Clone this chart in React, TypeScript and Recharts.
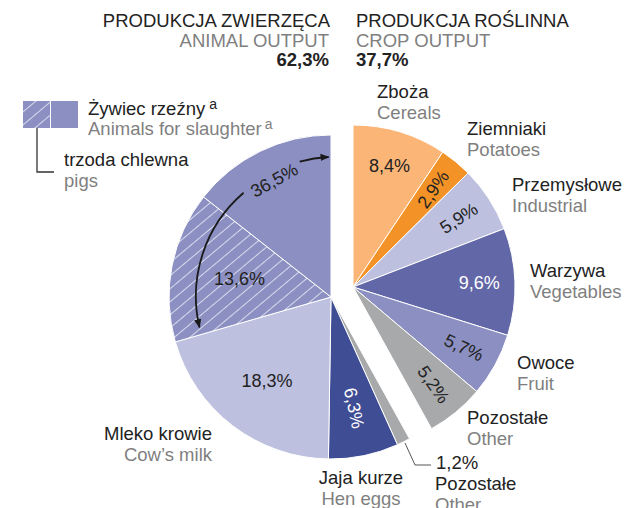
import { Cell, Pie, PieChart } from "recharts";

// shares in % of total agricultural output
const cropNames = ["Zboża", "Ziemniaki", "Przemysłowe", "Warzywa", "Owoce", "Pozostałe"];
const cropNamesEn = ["Cereals", "Potatoes", "Industrial", "Vegetables", "Fruit", "Other"];
const cropShares = [8.4, 2.9, 5.9, 9.6, 5.7, 5.2];

// animal slices, clockwise from the crop gap; last one = other slaughter animals (size)
const animalNames = ["Pozostałe", "Jaja kurze", "Mleko krowie", "Trzoda chlewna", "Żywiec rzeźny – pozostały"];
const animalShares = [1.2, 6.3, 18.3, 13.6, 13.0];
const slaughterTotal = 36.5;

const groupTotals = [62.3, 37.7];

const fmt = (v: number) => v.toFixed(1).replace(".", ",") + "%";

const FONT = "'Liberation Sans', Arial, sans-serif";
const DARK = "#222";
const GREY = "#7f7f7f";
const R = 162;
const LEFT = { cx: 331, cy: 297 };
const RIGHT = { cx: 353, cy: 287 };
const SPLIT = -61;

const cropColors = ["#fbb677", "#f39226", "#bdc0de", "#6267a7", "#8b8fc1", "#a8a9ab"];
const cropLabelRot = [0, -55, -33, 0, 25, 55];
const cropLabelFill = [DARK, DARK, DARK, "#fff", DARK, DARK];

const animalColors = ["#a8a9ab", "#3f4d95", "#bdc0de", "url(#hatch)", "#8b8fc1"];
const animalLabelRot = [0, 78, 0, 0, -29];
const animalLabelR = [0, 0.7, 0.65, 0.575, 0.8];
const animalLabelFill = [DARK, "#fff", DARK, DARK, DARK];

const cropData = cropNames.map((name, i) => ({ name, value: cropShares[i] }));
const animalData = animalNames.map((name, i) => ({ name, value: animalShares[i] }));
const cropTexts = cropShares.map(fmt);
const animalTexts = animalShares.map((v, i) => (i === 0 ? "" : i === 4 ? fmt(slaughterTotal) : fmt(v)));

function makeLabel(texts: string[], rots: number[], rads: number[], fills: string[]) {
  return (p: any) => {
    const i = p.index;
    if (!texts[i]) return null;
    const r = p.outerRadius * rads[i];
    const a = (-p.midAngle * Math.PI) / 180;
    const x = p.cx + r * Math.cos(a);
    const y = p.cy + r * Math.sin(a);
    return (
      <text x={x} y={y} transform={`rotate(${rots[i]} ${x} ${y})`} textAnchor="middle"
        dominantBaseline="central" fill={fills[i]} fontSize={18} fontFamily={FONT}>
        {texts[i]}
      </text>
    );
  };
}

// point on a circle round the left pie centre, angle in degrees (counter-clockwise)
const pt = (r: number, deg: number) => {
  const a = (deg * Math.PI) / 180;
  return `${(LEFT.cx + r * Math.cos(a)).toFixed(1)} ${(LEFT.cy - r * Math.sin(a)).toFixed(1)}`;
};

function Label({ x, y, top, bottom, anchor = "start" }: { x: number; y: number; top: string; bottom: string; anchor?: string }) {
  return (
    <g fontFamily={FONT} fontSize={18.5} textAnchor={anchor}>
      <text x={x} y={y} fill={DARK}>{top}</text>
      <text x={x} y={y + 21} fill={GREY}>{bottom}</text>
    </g>
  );
}

export default function App() {
  return (
    <div style={{ position: "absolute", left: 0, top: 0, width: 626, height: 508, background: "#fff", overflow: "hidden" }}>
      <svg width={0} height={0} style={{ position: "absolute" }}>
        <defs>
          <pattern id="hatch" patternUnits="userSpaceOnUse" width={10} height={10} patternTransform="rotate(-40)">
            <rect width={10} height={10} fill="#8b8fc1" />
            <line x1={0} y1={0.5} x2={10} y2={0.5} stroke="#d9dbec" strokeWidth={1} />
          </pattern>
          <marker id="arrow" viewBox="0 0 10 10" refX={9} refY={5} markerWidth={9} markerHeight={9} markerUnits="userSpaceOnUse" orient="auto">
            <path d="M0 1 L10 5 L0 9 Z" fill="#1a1a1a" />
          </marker>
        </defs>
      </svg>

      <PieChart width={626} height={508} margin={{ top: 0, right: 0, bottom: 0, left: 0 }}>
        <Pie data={animalData} dataKey="value" cx={LEFT.cx} cy={LEFT.cy} outerRadius={R} startAngle={SPLIT} endAngle={-270}
          stroke="#fff" strokeWidth={1} isAnimationActive={false} labelLine={false}
          label={makeLabel(animalTexts, animalLabelRot, animalLabelR, animalLabelFill)}>
          {animalData.map((d, i) => <Cell key={d.name} fill={animalColors[i]} />)}
        </Pie>
        <Pie data={cropData} dataKey="value" cx={RIGHT.cx} cy={RIGHT.cy} outerRadius={R} startAngle={90} endAngle={SPLIT}
          stroke="#fff" strokeWidth={1} isAnimationActive={false} labelLine={false}
          label={makeLabel(cropTexts, cropLabelRot, cropTexts.map(() => 0.78), cropLabelFill)}>
          {cropData.map((d, i) => <Cell key={d.name} fill={cropColors[i]} />)}
        </Pie>
      </PieChart>

      <svg width={626} height={508} style={{ position: "absolute", left: 0, top: 0, pointerEvents: "none" }}>
        {/* group headings */}
        <g fontFamily={FONT} fontSize={18.5}>
          <text x={330} y={27} textAnchor="end" fill={DARK}>PRODUKCJA ZWIERZĘCA</text>
          <text x={329} y={47} textAnchor="end" fill={GREY}>ANIMAL OUTPUT</text>
          <text x={329} y={66} textAnchor="end" fill={DARK} fontWeight="bold">{fmt(groupTotals[0])}</text>
          <text x={356} y={27} fill={DARK}>PRODUKCJA ROŚLINNA</text>
          <text x={356} y={47} fill={GREY}>CROP OUTPUT</text>
          <text x={356} y={66} fill={DARK} fontWeight="bold">{fmt(groupTotals[1])}</text>
        </g>

        {/* legend */}
        <rect x={23} y={101} width={27} height={27} fill="url(#hatch)" />
        <rect x={51} y={101} width={27} height={27} fill="#8b8fc1" />
        <path d="M37 128 V172 H54" fill="none" stroke="#333" strokeWidth={1.3} />
        <g fontFamily={FONT} fontSize={18.5}>
          <text x={88} y={115} fill={DARK}>Żywiec rzeźny<tspan fontSize={14} dx={4} dy={-6}>a</tspan></text>
          <text x={88} y={135} fill={GREY}>Animals for slaughter<tspan fontSize={14} dx={3} dy={-6}>a</tspan></text>
        </g>
        <Label x={64} y={166} top="trzoda chlewna" bottom="pigs" />

        {/* arrow spanning the slaughter-animal slices */}
        <path d={`M${pt(139, 103)} A139 139 0 0 1 ${pt(140, 91)}`} fill="none" stroke="#1a1a1a" strokeWidth={1.8} markerEnd="url(#arrow)" />
        <path d={`M${pt(136, 130)} A136 136 0 0 0 ${pt(135, 193)}`} fill="none" stroke="#1a1a1a" strokeWidth={1.8} markerEnd="url(#arrow)" />

        {/* crop labels */}
        <Label x={377} y={98} top={cropNames[0]} bottom={cropNamesEn[0]} />
        <Label x={467} y={135} top={cropNames[1]} bottom={cropNamesEn[1]} />
        <Label x={512} y={191} top={cropNames[2]} bottom={cropNamesEn[2]} />
        <Label x={530} y={277} top={cropNames[3]} bottom={cropNamesEn[3]} />
        <Label x={517} y={369} top={cropNames[4]} bottom={cropNamesEn[4]} />
        <Label x={467} y={424} top={cropNames[5]} bottom={cropNamesEn[5]} />

        {/* animal labels */}
        <Label x={212} y={440} top={animalNames[2]} bottom="Cow’s milk" anchor="end" />
        <Label x={361} y={484} top={animalNames[1]} bottom="Hen eggs" anchor="middle" />
        <path d="M405 443 L415 465 H431" fill="none" stroke="#555" strokeWidth={1} />
        <g fontFamily={FONT} fontSize={18.5}>
          <text x={436} y={469} fill={DARK}>{fmt(animalShares[0])}</text>
          <text x={435} y={490} fill={DARK}>{animalNames[0]}</text>
          <text x={435} y={511} fill={GREY}>Other</text>
        </g>
      </svg>
    </div>
  );
}
